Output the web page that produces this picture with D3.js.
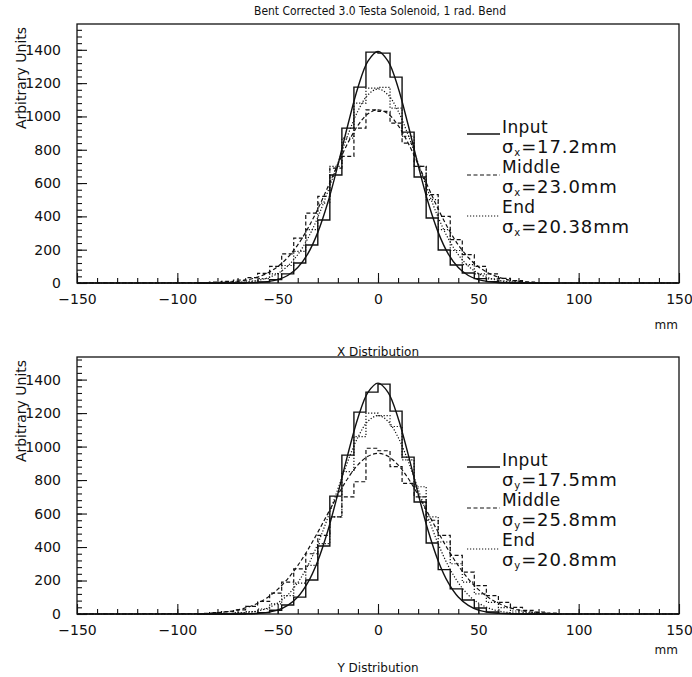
<!DOCTYPE html>
<html>
<head>
<meta charset="utf-8">
<script src="https://cdn.jsdelivr.net/npm/d3@7"></script>
<style>
  body { margin: 0; background: #fff; }
  text { font-family: "DejaVu Sans", sans-serif; fill: #111; }
</style>
</head>
<body>
<div id="chart-area"></div>
<script>

// Bin centres of the 6 mm histograms (everything outside is zero)
var binCenters = [-87, -81, -75, -69, -63, -57, -51, -45, -39, -33, -27, -21, -15, -9, -3,
                  3, 9, 15, 21, 27, 33, 39, 45, 51, 57, 63, 69, 75, 81, 87];
var binWidth = 6;

// X distribution histograms
var inputX  = [0, 0, 0, 0, 2, 6, 20, 55, 120, 228, 378, 648, 930, 1176, 1386,
               1380, 1236, 906, 636, 390, 198, 108, 60, 26, 8, 2, 0, 0, 0, 0];
var middleX = [2, 5, 10, 18, 32, 58, 100, 175, 270, 420, 520, 690, 760, 930, 1040,
               1030, 960, 840, 700, 530, 400, 260, 170, 100, 55, 28, 14, 6, 3, 1];
var endX    = [0, 1, 3, 6, 12, 26, 55, 105, 190, 320, 480, 700, 870, 1080, 1170,
               1175, 1050, 880, 700, 500, 320, 195, 110, 55, 25, 12, 5, 2, 1, 0];

// Y distribution histograms
var inputY  = [0, 0, 0, 0, 2, 8, 22, 54, 101, 203, 406, 704, 949, 1206, 1325,
               1373, 1212, 937, 669, 424, 265, 150, 84, 36, 12, 4, 1, 0, 0, 0];
var middleY = [3, 8, 14, 25, 45, 75, 125, 190, 270, 360, 470, 580, 700, 790, 990,
               975, 880, 780, 700, 560, 470, 350, 250, 170, 110, 70, 40, 22, 12, 5];
var endY    = [0, 2, 4, 8, 14, 30, 60, 110, 185, 290, 420, 580, 850, 1060, 1200,
               1185, 1120, 920, 760, 580, 430, 300, 190, 120, 70, 38, 18, 8, 3, 1];

// Sample points of the fitted curves
var fitPoints = [-90, -85, -80, -75, -70, -65, -60, -55, -50, -45, -40, -35, -30, -25, -20, -15, -10, -5, 0,
                 5, 10, 15, 20, 25, 30, 35, 40, 45, 50, 55, 60, 65, 70, 75, 80, 85, 90];

var fitInputX  = [0, 0, 0, 0, 0, 1, 3, 8, 20, 45, 93, 175, 304, 483, 707, 950, 1174, 1332, 1390,
                  1332, 1174, 950, 707, 483, 304, 175, 93, 45, 20, 8, 3, 1, 0, 0, 0, 0, 0];
var fitMiddleX = [0, 1, 2, 5, 10, 19, 35, 60, 98, 153, 229, 327, 444, 576, 713, 841, 946, 1016, 1040,
                  1016, 946, 841, 713, 576, 444, 327, 229, 153, 98, 60, 35, 19, 10, 5, 2, 1, 0];
var fitEndX    = [0, 0, 0, 1, 3, 7, 15, 31, 57, 102, 170, 267, 394, 549, 720, 889, 1033, 1130, 1165,
                  1130, 1033, 889, 720, 549, 394, 267, 170, 102, 57, 31, 15, 7, 3, 1, 0, 0, 0];

var fitInputY  = [0, 0, 0, 0, 0, 1, 4, 10, 23, 51, 101, 187, 317, 497, 718, 955, 1171, 1324, 1379,
                  1324, 1171, 955, 718, 497, 317, 187, 101, 51, 23, 10, 4, 1, 0, 0, 0, 0, 0];
var fitMiddleY = [2, 4, 8, 14, 24, 40, 64, 99, 147, 210, 289, 383, 488, 600, 711, 811, 891, 942, 960,
                  942, 891, 811, 711, 600, 488, 383, 289, 210, 147, 99, 64, 40, 24, 14, 8, 4, 2];
var fitEndY    = [0, 0, 1, 2, 4, 9, 18, 36, 66, 114, 187, 288, 419, 576, 746, 914, 1056, 1151, 1185,
                  1151, 1056, 914, 746, 576, 419, 288, 187, 114, 66, 36, 18, 9, 4, 2, 1, 0, 0];

// Legend texts
var seriesNames = ["Input", "Middle", "End"];
var sigmasX = ["17.2", "23.0", "20.38"];
var sigmasY = ["17.5", "25.8", "20.8"];

// Tick values
var xTicks = [-150, -100, -50, 0, 50, 100, 150];
var yTicks = [0, 200, 400, 600, 800, 1000, 1200, 1400];

var title = "Bent Corrected 3.0 Testa Solenoid, 1 rad. Bend";

var width = 692, height = 677;
var styles = [
    {dash: null,      w: 1.4},   // Input  - solid
    {dash: "4,2.5",   w: 1.2},   // Middle - dashed
    {dash: "1.2,1.8", w: 1.2}    // End    - dotted
];

var svg = d3.select("#chart-area")
    .append("svg")
        .attr("width", width)
        .attr("height", height);

// Title
svg.append("text")
    .attr("x", 380)
    .attr("y", 15)
    .attr("text-anchor", "middle")
    .attr("font-size", "13px")
    .attr("textLength", 252)
    .attr("lengthAdjust", "spacingAndGlyphs")
    .text(title);

var x = d3.scaleLinear().domain([-150, 150]).range([77, 679]);

var panels = [
    {top: 24,  bottom: 283, yMax: 1555, sub: "x", label: "X Distribution", mmY: 329, labelY: 356,
     hists: [inputX, middleX, endX], fits: [fitInputX, fitMiddleX, fitEndX], sigmas: sigmasX},
    {top: 357, bottom: 614, yMax: 1535, sub: "y", label: "Y Distribution", mmY: 654, labelY: 672,
     hists: [inputY, middleY, endY], fits: [fitInputY, fitMiddleY, fitEndY], sigmas: sigmasY}
];

panels.forEach(drawPanel);

function drawPanel(p) {

    var y = d3.scaleLinear().domain([0, p.yMax]).range([p.bottom, p.top]);
    var g = svg.append("g");

    // Minor ticks first, then major ticks with labels
    g.append("g")
        .attr("transform", "translate(0," + p.bottom + ")")
        .call(d3.axisBottom(x).tickValues(d3.range(-140, 150, 10)).tickSize(-5).tickFormat(""))
        .call(function (a) { a.select(".domain").remove(); });

    g.append("g")
        .attr("transform", "translate(0," + p.bottom + ")")
        .call(d3.axisBottom(x).tickValues(xTicks).tickSize(-10).tickPadding(11))
        .call(function (a) {
            a.select(".domain").remove();
            a.selectAll("text").attr("font-size", "14px").attr("font-family", "DejaVu Sans");
        });

    g.append("g")
        .attr("transform", "translate(" + x(-150) + ",0)")
        .call(d3.axisLeft(y).tickValues(d3.range(40, p.yMax, 40)).tickSize(-5).tickFormat(""))
        .call(function (a) { a.select(".domain").remove(); });

    g.append("g")
        .attr("transform", "translate(" + x(-150) + ",0)")
        .call(d3.axisLeft(y).tickValues(yTicks).tickSize(-10).tickPadding(16).tickFormat(d3.format("d")))
        .call(function (a) {
            a.select(".domain").remove();
            a.selectAll("text").attr("font-size", "14px").attr("font-family", "DejaVu Sans");
        });

    g.selectAll(".tick line").attr("stroke", "#111").attr("stroke-width", 1.1);

    // Frame
    g.append("rect")
        .attr("x", x(-150))
        .attr("y", y(p.yMax))
        .attr("width", x(150) - x(-150))
        .attr("height", y(0) - y(p.yMax))
        .attr("fill", "none")
        .attr("stroke", "#111")
        .attr("stroke-width", 1.3);

    // Histograms as step lines
    var line = d3.line()
        .x(function (d) { return x(d[0]); })
        .y(function (d) { return y(d[1]); });

    p.hists.forEach(function (vals, i) {
        var pts = [[-150, 0]];
        binCenters.forEach(function (c, k) {
            pts.push([c - binWidth / 2, vals[k]]);
            pts.push([c + binWidth / 2, vals[k]]);
        });
        pts.push([binCenters[binCenters.length - 1] + binWidth / 2, 0]);
        pts.push([150, 0]);
        g.append("path")
            .attr("d", line(pts))
            .attr("fill", "none")
            .attr("stroke", "#111")
            .attr("stroke-width", styles[i].w)
            .attr("stroke-dasharray", styles[i].dash);
    });

    // Fitted curves
    var curve = d3.line()
        .x(function (d) { return x(d[0]); })
        .y(function (d) { return y(d[1]); })
        .curve(d3.curveCatmullRom.alpha(0.5));

    p.fits.forEach(function (vals, i) {
        var pts = fitPoints.map(function (f, k) { return [f, vals[k]]; });
        g.append("path")
            .attr("d", curve(pts))
            .attr("fill", "none")
            .attr("stroke", "#111")
            .attr("stroke-width", styles[i].w)
            .attr("stroke-dasharray", styles[i].dash);
    });

    // Legend
    seriesNames.forEach(function (name, i) {
        var base = p.top + 109 + 40 * i;
        g.append("line")
            .attr("x1", 467).attr("x2", 500)
            .attr("y1", base + 1 + i).attr("y2", base + 1 + i)
            .attr("stroke", "#111")
            .attr("stroke-width", styles[i].w)
            .attr("stroke-dasharray", styles[i].dash);
        g.append("text")
            .attr("x", 502)
            .attr("y", base)
            .attr("font-size", "17px")
            .attr("letter-spacing", "0.4px")
            .text(name);
        var s = g.append("text")
            .attr("x", 502)
            .attr("y", base + 20)
            .attr("font-size", "18px")
            .attr("letter-spacing", "0.9px");
        s.append("tspan").text("σ");
        s.append("tspan").attr("font-size", "10px").attr("dy", 3).text(p.sub);
        s.append("tspan").attr("dy", -3).text("=" + p.sigmas[i] + "mm");
    });

    // Axis titles
    g.append("text")
        .attr("x", 678)
        .attr("y", p.mmY)
        .attr("text-anchor", "end")
        .attr("font-size", "12px")
        .text("mm");

    g.append("text")
        .attr("x", 378)
        .attr("y", p.labelY)
        .attr("text-anchor", "middle")
        .attr("font-size", "12px")
        .text(p.label);

    g.append("text")
        .attr("transform", "translate(26," + (p.top + 54) + ") rotate(-90)")
        .attr("text-anchor", "middle")
        .attr("font-size", "14px")
        .text("Arbitrary Units");
}

</script>
</body>
</html>
